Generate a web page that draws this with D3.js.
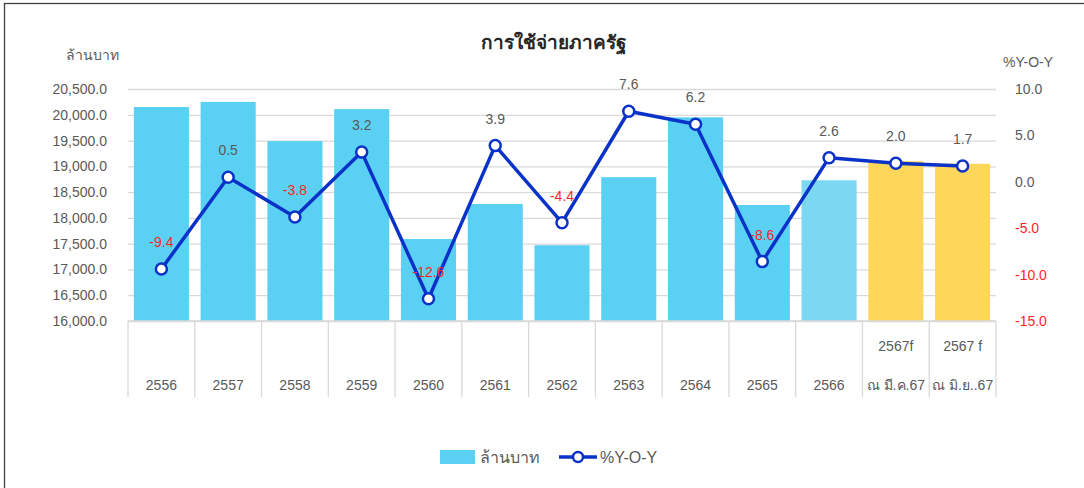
<!DOCTYPE html>
<html>
<head>
<meta charset="utf-8">
<script src="https://cdn.jsdelivr.net/npm/d3@7"></script>
<style>
  body { margin: 0; background: #fff; }
  text { font-family: "Liberation Sans", Arial, "Noto Sans", sans-serif; }
</style>
</head>
<body>
<div class="chart"></div>
<script>
// data
const categories = ['2556', '2557', '2558', '2559', '2560', '2561', '2562', '2563', '2564', '2565', '2566',
  '2567f\nณ มี.ค.67', '2567 f\nณ มิ.ย..67'];
const spending = [20150, 20250, 19490, 20110, 17590, 18270, 17470, 18790, 19950, 18250, 18730, 19100, 19050];
const yoy = [-9.4, 0.5, -3.8, 3.2, -12.6, 3.9, -4.4, 7.6, 6.2, -8.6, 2.6, 2.0, 1.7];
const leftTicks = [16000, 16500, 17000, 17500, 18000, 18500, 19000, 19500, 20000, 20500];
const rightTicks = [-15, -10, -5, 0, 5, 10];

const W = 1084, H = 488;
const margin = {top: 89, left: 128, bottom: 167, right: 88};
const width = W - margin.left - margin.right;
const height = H - margin.top - margin.bottom;

const svg = d3.select('.chart')
  .append('svg')
  .attr('width', W)
  .attr('height', H);

// outer border (only top/left visible in the frame)
svg.append('rect')
  .attr('x', 4.5).attr('y', 3.5)
  .attr('width', 1200).attr('height', 600)
  .attr('fill', 'none')
  .attr('stroke', '#404040')
  .attr('stroke-width', 1.3);

const g = svg.append('g')
  .attr('transform', 'translate(' + margin.left + ',' + margin.top + ')');

const xScale = d3.scaleBand()
  .domain(categories)
  .range([0, width])
  .paddingInner(0.175)
  .paddingOuter(0.0875);

const yScale = d3.scaleLinear()
  .domain([16000, 20500])
  .range([height, 0]);

const yRight = d3.scaleLinear()
  .domain([-15, 10])
  .range([height, 0]);

const grey = '#595959';
const red = '#FF1F1F';

// gridlines
g.append('g')
  .attr('class', 'grid')
  .call(d3.axisLeft(yScale).tickValues(leftTicks).tickSize(-width).tickFormat(''))
  .call(s => s.select('.domain').remove())
  .call(s => s.selectAll('line').attr('stroke', '#D9D9D9').attr('stroke-width', 1.3));

// left axis
g.append('g')
  .attr('class', 'y-axis')
  .attr('transform', 'translate(-18,0)')
  .call(d3.axisLeft(yScale).tickValues(leftTicks).tickSize(0).tickFormat(d3.format(',.1f')))
  .call(s => s.select('.domain').remove())
  .call(s => s.selectAll('text').attr('fill', grey).style('font-size', '14px'));

// right axis
g.append('g')
  .attr('class', 'y-axis-right')
  .attr('transform', 'translate(' + (width + 19) + ',0)')
  .call(d3.axisRight(yRight).tickValues(rightTicks).tickSize(0).tickFormat(d => d.toFixed(1)))
  .call(s => s.select('.domain').remove())
  .call(s => s.selectAll('text')
    .attr('x', 0)
    .attr('fill', d => d < 0 ? red : grey)
    .style('font-size', '14px'));

// axis titles
svg.append('text')
  .attr('x', 92).attr('y', 60)
  .attr('text-anchor', 'middle')
  .attr('fill', grey)
  .style('font-size', '14px')
  .text('ล้านบาท');

svg.append('text')
  .attr('x', 1028).attr('y', 67)
  .attr('text-anchor', 'middle')
  .attr('fill', grey)
  .style('font-size', '14px')
  .text('%Y-O-Y');

// title
svg.append('text')
  .attr('x', 553).attr('y', 49)
  .attr('text-anchor', 'middle')
  .attr('fill', '#262626')
  .style('font-size', '19px')
  .style('font-weight', 'bold')
  .text('การใช้จ่ายภาครัฐ');

// bars
function barColor(c) {
  if (c.startsWith('2567')) return '#FDD65A';
  if (c === '2566') return '#7CD8F2';
  return '#5AD1F3';
}

g.selectAll('rect.bar')
  .data(categories.map((c, i) => ({c: c, v: spending[i]})))
  .enter()
  .append('rect')
  .attr('class', 'bar')
  .attr('x', d => xScale(d.c))
  .attr('y', d => yScale(d.v))
  .attr('width', xScale.bandwidth())
  .attr('height', d => height - yScale(d.v))
  .attr('fill', d => barColor(d.c));

// category axis: base line + separators
const step = xScale.step();
const xa = g.append('g').attr('class', 'x-axis').attr('transform', 'translate(0,' + height + ')');
xa.append('line')
  .attr('x1', 0).attr('x2', width)
  .attr('stroke', '#D9D9D9').attr('stroke-width', 1.3);
xa.selectAll('line.sep')
  .data(d3.range(categories.length + 1))
  .enter()
  .append('line')
  .attr('class', 'sep')
  .attr('x1', i => i * step).attr('x2', i => i * step)
  .attr('y1', 0).attr('y2', 76)
  .attr('stroke', '#D9D9D9').attr('stroke-width', 1.3);

const labels = xa.selectAll('text.cat')
  .data(categories)
  .enter()
  .append('text')
  .attr('class', 'cat')
  .attr('text-anchor', 'middle')
  .attr('fill', grey)
  .style('font-size', '14px')
  .attr('transform', d => 'translate(' + (xScale(d) + xScale.bandwidth() / 2) + ',0)');

labels.each(function(d) {
  const lines = d.split('\n');
  const t = d3.select(this);
  if (lines.length === 1) {
    t.append('tspan').attr('x', 0).attr('y', 69).text(lines[0]);
  } else {
    t.append('tspan').attr('x', 0).attr('y', 30).text(lines[0]);
    t.append('tspan').attr('x', 0).attr('y', 69).text(lines[1]);
  }
});

// line series
const cx = c => xScale(c) + xScale.bandwidth() / 2;
const lineData = categories.map((c, i) => ({c: c, v: yoy[i]}));

g.append('path')
  .datum(lineData)
  .attr('fill', 'none')
  .attr('stroke', '#0A32C8')
  .attr('stroke-width', 3.5)
  .attr('stroke-linejoin', 'round')
  .attr('d', d3.line().x(d => cx(d.c)).y(d => yRight(d.v)));

g.selectAll('circle.pt')
  .data(lineData)
  .enter()
  .append('circle')
  .attr('class', 'pt')
  .attr('cx', d => cx(d.c))
  .attr('cy', d => yRight(d.v))
  .attr('r', 5.5)
  .attr('fill', '#fff')
  .attr('stroke', '#0A32C8')
  .attr('stroke-width', 2.5);

g.selectAll('text.lbl')
  .data(lineData)
  .enter()
  .append('text')
  .attr('class', 'lbl')
  .attr('x', d => cx(d.c))
  .attr('y', d => yRight(d.v) - 22)
  .attr('text-anchor', 'middle')
  .attr('fill', d => d.v < 0 ? red : grey)
  .style('font-size', '14px')
  .text(d => d.v.toFixed(1));

// legend
const lg = svg.append('g').attr('transform', 'translate(440,450)');
lg.append('rect')
  .attr('width', 35).attr('height', 14)
  .attr('fill', '#5AD1F3');
lg.append('text')
  .attr('x', 40).attr('y', 13)
  .attr('fill', grey)
  .style('font-size', '16px')
  .text('ล้านบาท');
lg.append('line')
  .attr('x1', 119).attr('x2', 157)
  .attr('y1', 7).attr('y2', 7)
  .attr('stroke', '#0A32C8').attr('stroke-width', 3.5);
lg.append('circle')
  .attr('cx', 138).attr('cy', 7).attr('r', 5)
  .attr('fill', '#fff')
  .attr('stroke', '#0A32C8').attr('stroke-width', 2.5);
lg.append('text')
  .attr('x', 160).attr('y', 13)
  .attr('fill', grey)
  .style('font-size', '16px')
  .text('%Y-O-Y');
</script>
</body>
</html>
